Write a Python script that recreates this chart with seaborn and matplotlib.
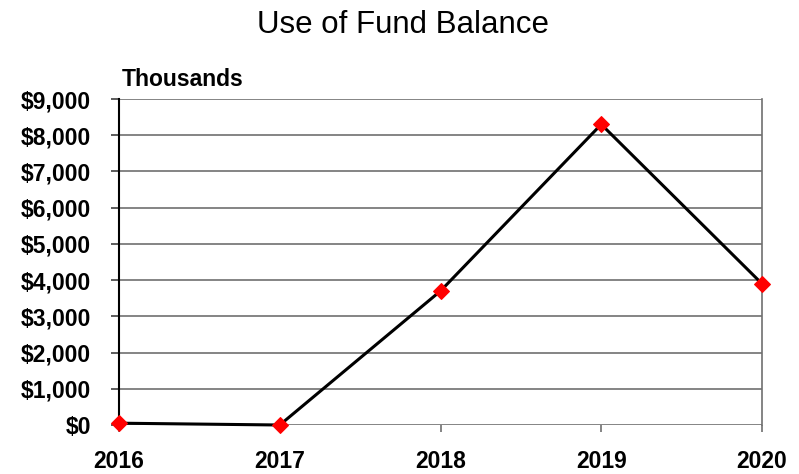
# Use of Fund Balance - line chart recreated with seaborn
import matplotlib
matplotlib.use("Agg")
import matplotlib.pyplot as plt
import seaborn as sns
from matplotlib.ticker import FuncFormatter

# ---------------------------------------------------
# Data (values in thousands)
# ---------------------------------------------------
years = [2016, 2017, 2018, 2019, 2020]
fund_balance_used = [50, 0, 3700, 8300, 3900]
y_ticks = [0, 1000, 2000, 3000, 4000, 5000, 6000, 7000, 8000, 9000]

# ---------------------------------------------------
# Figure setup
# ---------------------------------------------------
sns.set_style("white")
plt.rcParams["font.family"] = ["Liberation Sans", "DejaVu Sans"]
plt.rcParams["text.color"] = "black"
plt.rcParams["xtick.color"] = "black"
plt.rcParams["ytick.color"] = "black"

fig = plt.figure(figsize=(7.99, 4.74), dpi=100)
ax = fig.add_axes([119 / 799, 1 - 425 / 474, (762 - 119) / 799, (425 - 99) / 474])

# gridlines
for t in y_ticks:
    ax.axhline(t, color="#707070", lw=1.2, zorder=1)

# line with red diamond markers
sns.lineplot(
    x=years, y=fund_balance_used, ax=ax,
    color="black", lw=2.2, marker="D", markersize=8,
    markerfacecolor="red", markeredgecolor="red",
    clip_on=False, zorder=3,
)

ax.set_xlim(2016, 2020)
ax.set_ylim(0, 9000)
ax.set_xticks(years)
ax.set_yticks(y_ticks)
ax.yaxis.set_major_formatter(FuncFormatter(lambda v, p: f"${v:,.0f}"))

for lab in ax.get_xticklabels() + ax.get_yticklabels():
    lab.set_fontweight("bold")
    lab.set_fontsize(16.5)
    lab.set_color("black")

ax.tick_params(axis="y", length=6, width=1.2, color="#404040", pad=14, left=True)
ax.tick_params(axis="x", length=5, width=1.2, color="#707070", pad=13, bottom=True)

ax.spines["left"].set_color("black")
ax.spines["left"].set_linewidth(1.5)
ax.spines["right"].set_color("#707070")
ax.spines["right"].set_linewidth(1.2)
ax.spines["top"].set_visible(False)
ax.spines["bottom"].set_visible(False)

# titles
fig.text(403 / 799, 1 - 25 / 474, "Use of Fund Balance", ha="center", va="center",
         fontsize=22.5, color="black")
fig.text(122 / 799, 1 - 80 / 474, "Thousands", ha="left", va="center",
         fontsize=16.5, fontweight="bold", color="black")

fig.savefig("out.png", dpi=100)
